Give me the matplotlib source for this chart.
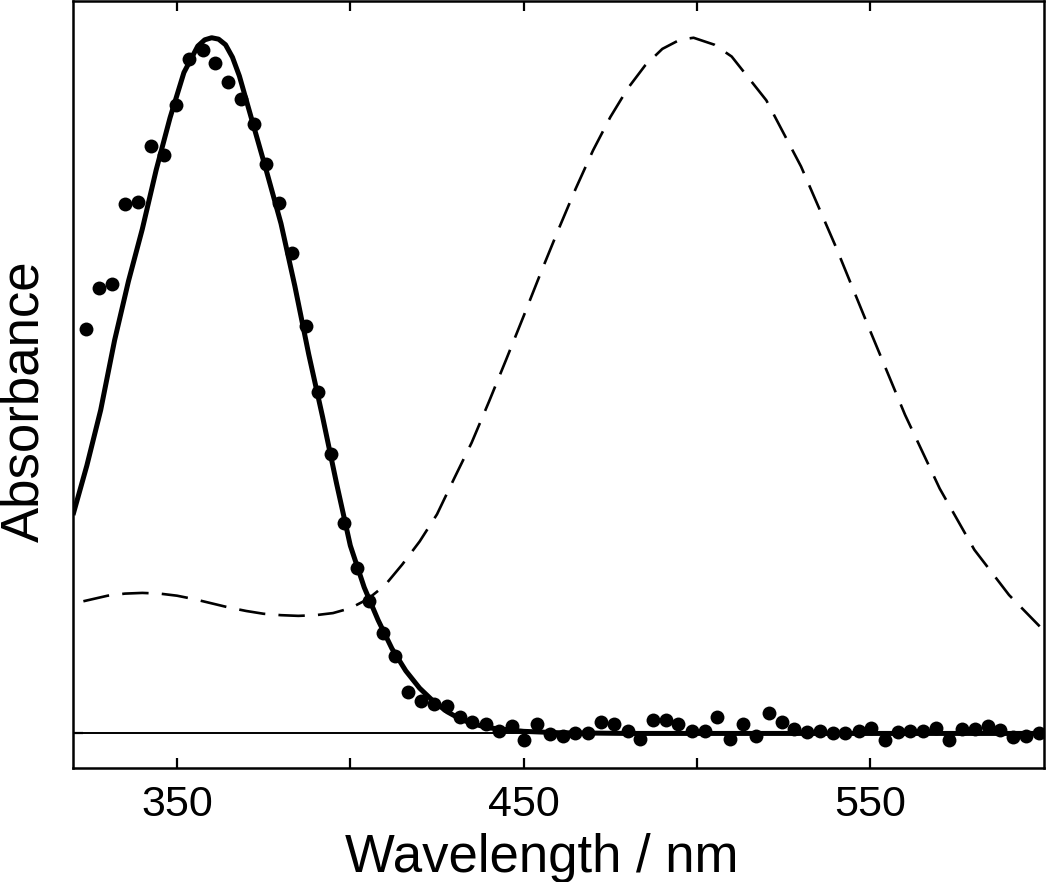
import matplotlib
matplotlib.use("Agg")
import matplotlib.pyplot as plt

# ---- data ----
dot_wl = [323.7, 327.6, 331.3, 335.0, 338.7, 342.4, 346.3, 349.8, 353.5, 357.4,
          361.0, 364.8, 368.4, 372.1, 375.7, 379.5, 383.3, 387.2, 390.8, 394.4,
          398.2, 401.9, 405.5, 409.4, 413.0, 416.6, 420.5, 424.1, 427.8, 431.6,
          435.2, 439.0, 442.8, 446.5, 450.2, 453.9, 457.6, 461.3, 464.9, 468.7,
          472.4, 476.1, 480.0, 483.5, 487.2, 491.0, 494.6, 498.5, 502.2, 505.9,
          509.6, 513.3, 517.0, 520.8, 524.4, 528.1, 531.8, 535.6, 539.3, 542.8,
          546.6, 550.3, 554.1, 557.9, 561.5, 565.3, 569.0, 572.6, 576.5, 580.2,
          583.8, 587.5, 591.2, 595.0, 598.6]
dot_abs = [0.581, 0.641, 0.646, 0.761, 0.764, 0.844, 0.832, 0.904, 0.970, 0.982,
           0.963, 0.937, 0.912, 0.876, 0.818, 0.763, 0.690, 0.586, 0.491, 0.401,
           0.303, 0.238, 0.190, 0.144, 0.112, 0.059, 0.046, 0.043, 0.039, 0.023,
           0.016, 0.014, 0.004, 0.011, -0.009, 0.013, -0.001, -0.004, 0.001, 0.001,
           0.016, 0.014, 0.004, -0.008, 0.019, 0.019, 0.013, 0.003, 0.004, 0.024,
           -0.008, 0.013, -0.004, 0.030, 0.016, 0.007, 0.002, 0.003, 0.000, 0.000,
           0.003, 0.008, -0.009, 0.002, 0.004, 0.004, 0.008, -0.010, 0.006, 0.006,
           0.010, 0.005, -0.005, -0.004, 0.001]

fit_wl = [320, 324, 328, 332, 336, 340, 344, 348, 352, 356, 358, 360, 362, 364,
          366, 368, 372, 376, 380, 384, 388, 392, 396, 400, 404, 408, 412, 416,
          420, 424, 428, 432, 436, 440, 450, 460, 480, 600]
fit_abs = [0.314, 0.385, 0.465, 0.565, 0.650, 0.725, 0.810, 0.885, 0.950, 0.988,
           0.997, 1.000, 0.998, 0.990, 0.972, 0.945, 0.875, 0.805, 0.733, 0.643,
           0.545, 0.455, 0.360, 0.270, 0.210, 0.163, 0.122, 0.090, 0.065, 0.046,
           0.031, 0.020, 0.013, 0.008, 0.003, 0.001, 0.000, 0.000]

ref_wl = [323, 330, 335, 340, 345, 350, 355, 360, 365, 370, 375, 380, 385, 390,
          395, 400, 405, 410, 415, 420, 425, 430, 435, 440, 445, 450, 455, 460,
          465, 470, 475, 480, 485, 490, 495, 499, 505, 510, 520, 530, 540, 550,
          560, 570, 580, 590, 600]
ref_abs = [0.190, 0.198, 0.201, 0.202, 0.201, 0.198, 0.193, 0.187, 0.181, 0.176,
           0.172, 0.170, 0.169, 0.170, 0.173, 0.180, 0.193, 0.213, 0.243, 0.276,
           0.315, 0.367, 0.418, 0.477, 0.538, 0.600, 0.663, 0.724, 0.783, 0.838,
           0.886, 0.927, 0.960, 0.984, 0.997, 1.000, 0.990, 0.973, 0.910, 0.815,
           0.700, 0.578, 0.458, 0.352, 0.264, 0.199, 0.148]

xtick_pos = [350, 400, 450, 500, 550]
xtick_lab = ["350", "", "450", "", "550"]

plt.rcParams['font.family'] = ['Liberation Sans', 'DejaVu Sans']

fig = plt.figure(figsize=(10.5, 8.82), dpi=100)
ax = fig.add_axes([0.0695, 0.129, 0.9245, 0.870])

ax.axhline(0, color='black', lw=1.4, zorder=1)
ax.plot(ref_wl, ref_abs, color='black', lw=1.9, dashes=(10, 5), zorder=2)
ax.plot(fit_wl, fit_abs, color='black', lw=3.6, zorder=3, solid_capstyle='butt')
ax.plot(dot_wl, dot_abs, 'o', color='black', ms=10, mec='none', zorder=4)

ax.set_xlim(320, 600)
ax.set_ylim(-0.050, 1.053)
ax.set_xticks(xtick_pos)
ax.set_xticklabels(xtick_lab)
ax.set_yticks([0])
ax.set_yticklabels([""])
ax.tick_params(axis='x', direction='in', length=7, width=1.6, top=True,
               labelsize=31, pad=12)
ax.tick_params(axis='y', direction='in', length=7, width=1.6)
for s in ax.spines.values():
    s.set_linewidth(1.8)

ax.set_xlabel("Wavelength / nm", fontsize=38)
ax.set_ylabel("Absorbance", fontsize=38)
ax.xaxis.set_label_coords(0.483, -0.085)
ax.yaxis.set_label_coords(-0.024, 0.478)

fig.savefig("out.png", dpi=100)
